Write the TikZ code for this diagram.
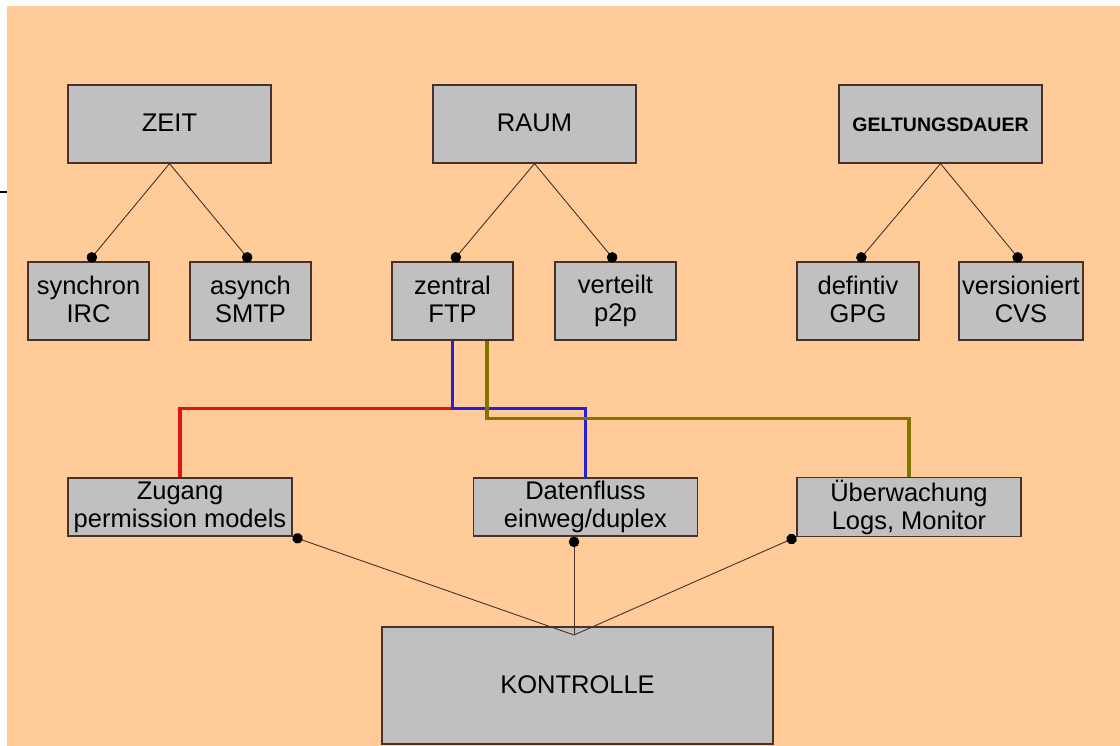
\documentclass[tikz,border=0pt]{standalone}
\usepackage{fontspec}
\setmainfont{Liberation Sans}
\usetikzlibrary{arrows.meta}
\definecolor{peach}{RGB}{255,204,153}
\definecolor{boxgray}{RGB}{192,192,192}
\definecolor{edge}{RGB}{70,50,42}
\definecolor{wirered}{RGB}{225,20,20}
\definecolor{wireblue}{RGB}{40,30,215}
\definecolor{wireolive}{RGB}{130,115,0}
\tikzset{
  box/.style={draw=edge, line width=1.2pt, fill=boxgray, align=center, inner sep=2pt,
    font=\fontsize{25.5}{28}\selectfont,
    execute at begin node={\rule{0pt}{18pt}}, execute at end node={\rule[-3pt]{0pt}{3pt}}},
  bigbox/.style={box, minimum width=203pt, minimum height=78pt},
  smallbox/.style={box, minimum width=121pt, minimum height=78pt},
  widebox/.style={box, minimum width=224pt, minimum height=58pt},
  link/.style={draw=edge, line width=0.9pt, -{Circle[length=10.5pt, color=black]}},
  wire/.style={line width=3.4pt},
}

\begin{document}
\begin{tikzpicture}[x=1pt, y=-1pt]
	\useasboundingbox (0,0) rectangle (1120,746);
	\fill[peach] (7,6) rectangle (1120,746);
	\draw[line width=2pt] (0,192) -- (7,192);

	\node[bigbox] (zeit) at (169.5,124) {ZEIT};
	\node[bigbox] (raum) at (534.5,124) {RAUM};
	\node[bigbox, font=\bfseries\fontsize{19.5}{22}\selectfont] (dauer) at (940.5,124) {GELTUNGSDAUER};

	\node[smallbox] (sync) at (88.5,301) {synchron\\IRC};
	\node[smallbox] (async) at (250.5,301) {asynch\\SMTP};
	\node[smallbox] (zentral) at (452.5,301) {zentral\\FTP};
	\node[smallbox] (verteilt) at (615.5,301) {verteilt\\p2p};
	\node[smallbox, minimum width=122pt] (defin) at (858,301) {defintiv\\GPG};
	\node[smallbox, minimum width=124pt] (version) at (1021,301) {versioniert\\CVS};

	\foreach \a/\b in {zeit/sync, zeit/async, raum/zentral, raum/verteilt, dauer/defin, dauer/version}
		\draw[link] (\a.south) -- (\b.north);

	\node[widebox] (zugang) at (180,507) {Zugang\\permission models};
	\node[widebox] (daten) at (585.5,507) {Datenfluss\\einweg/duplex};
	\node[widebox] (ueber) at (909,507) {Überwachung\\Logs, Monitor};

	\draw[wire, wirered] ([yshift=-68pt]zentral.south) -| (zugang.north);
	\draw[wire, wireblue] (zentral.south) -- ++(0,68) -| (daten.north);
	\draw[wire, wireolive] ([xshift=34.5pt]zentral.south) -- ++(0,78) -| (ueber.north);

	\node[box, minimum width=391pt, minimum height=117pt] (kontrolle) at (577.5,685.5) {KONTROLLE};
	\coordinate (knot) at (574,635);
	\draw[link] (knot) -- (zugang.south east);
	\draw[link] (knot) -- (knot |- daten.south);
	\draw[link] (knot) -- (ueber.south west);
\end{tikzpicture}
\end{document}
